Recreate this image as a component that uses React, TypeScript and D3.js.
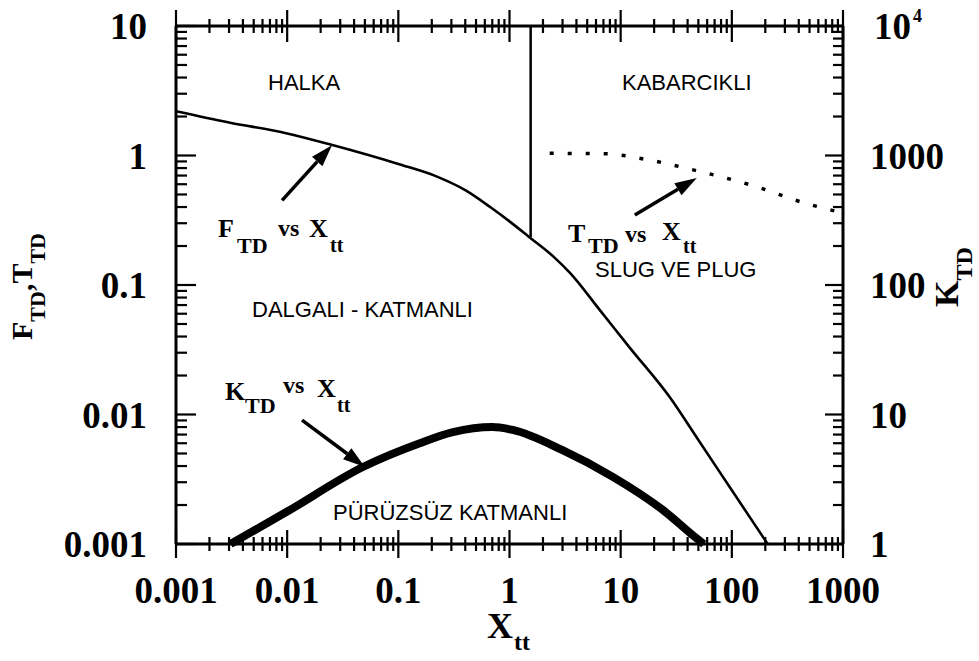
import React from 'react';
import * as d3 from 'd3';

// ---- data ----
const xTickValues = [0.001, 0.01, 0.1, 1, 10, 100, 1000];
const xTickLabels = ['0.001', '0.01', '0.1', '1', '10', '100', '1000'];
const leftTickValues = [0.001, 0.01, 0.1, 1, 10];
const leftTickLabels = ['0.001', '0.01', '0.1', '1', '10'];
const rightTickValues = [1, 10, 100, 1000];
const rightTickLabels = ['1', '10', '100', '1000'];
const rightTopValue = 10000;

// F_TD vs X_tt (left axis)
const fX = [0.001, 0.003, 0.01, 0.025, 0.1, 0.22, 0.4, 0.67, 1.0, 1.5, 2.5, 3.5, 6.5, 12, 28, 48, 100, 210];
const fY = [2.2, 1.8, 1.48, 1.21, 0.86, 0.69, 0.54, 0.4, 0.31, 0.235, 0.165, 0.124, 0.064, 0.033, 0.0134, 0.0067, 0.0026, 0.001];

// T_TD vs X_tt (left axis, dotted)
const tX = [2.3, 7.5, 16, 49, 150, 450, 1000];
const tY = [1.04, 1.03, 0.94, 0.76, 0.59, 0.43, 0.36];

// K_TD vs X_tt (right axis, thick)
const kX = [0.0031, 0.01, 0.048, 0.156, 0.31, 0.7, 1.07, 3.0, 8.5, 24, 48, 56];
const kY = [1, 1.78, 3.93, 6.0, 7.3, 8.0, 7.6, 5.3, 3.3, 1.83, 1.11, 1.0];

// boundary between HALKA / KABARCIKLI
const boundaryX = 1.55;
const boundaryTop = 10;
const boundaryBottom = 0.235;

// annotation arrows [x0, y0, x1, y1] in data units
const arrowF = [0.009, 0.45, 0.0253, 1.2];
const arrowT = [13.4, 0.347, 48.4, 0.67];
const arrowK = [0.0136, 9.06, 0.05, 3.94]; // right axis units

const W = 979;
const H = 661;
const L = 176, R = 843, T = 26, B = 544;

const serif = '"Liberation Serif", "Times New Roman", serif';
const sans = '"Liberation Sans", Arial, sans-serif';

function minorTicks(lo: number, hi: number) {
  const out: number[] = [];
  for (let d = lo; d < hi * 0.999; d *= 10) {
    for (let m = 2; m <= 9; m++) out.push(m * d);
  }
  return out;
}

export default function App() {
  const x = d3.scaleLog().domain([0.001, 1000]).range([L, R]);
  const yL = d3.scaleLog().domain([0.001, 10]).range([B, T]);
  const yR = d3.scaleLog().domain([1, 10000]).range([B, T]);

  const line = d3.line<[number, number]>().x(d => d[0]).y(d => d[1]).curve(d3.curveMonotoneX);
  const fPath = line(fX.map((v, i) => [x(v), yL(fY[i])] as [number, number])) || '';
  const tPath = line(tX.map((v, i) => [x(v), yL(tY[i])] as [number, number])) || '';
  const kPath = line(kX.map((v, i) => [x(v), yR(kY[i])] as [number, number])) || '';

  const xMinor = minorTicks(0.001, 1000);
  const yLMinor = minorTicks(0.001, 10);
  const yRMinor = minorTicks(1, 10000);

  const arrow = (a: number[], ys: any, key: string) => {
    const x0 = x(a[0]), y0 = ys(a[1]), x1 = x(a[2]), y1 = ys(a[3]);
    const ang = Math.atan2(y1 - y0, x1 - x0);
    const hl = 22, hw = 7;
    const bx = x1 - hl * Math.cos(ang), by = y1 - hl * Math.sin(ang);
    const px = -Math.sin(ang) * hw, py = Math.cos(ang) * hw;
    return (
      <g key={key}>
        <line x1={x0} y1={y0} x2={bx} y2={by} stroke="#000" strokeWidth={3.5} />
        <path d={`M${x1},${y1}L${bx + px},${by + py}L${bx - px},${by - py}Z`} fill="#000" />
      </g>
    );
  };

  return (
    <svg width={W} height={H} style={{ position: 'absolute', left: 0, top: 0, background: '#fff' }}>
      <rect x={0} y={0} width={W} height={H} fill="#fff" />

      {/* frame */}
      <g stroke="#000" strokeWidth={3} fill="none">
        <line x1={L} y1={T} x2={R} y2={T} />
        <line x1={L} y1={B} x2={R} y2={B} />
        <line x1={L} y1={T} x2={L} y2={B} />
        <line x1={R} y1={T} x2={R} y2={B} />
      </g>

      {/* ticks */}
      <g stroke="#000" strokeWidth={2.2}>
        {xTickValues.map(v => (
          <g key={'xm' + v}>
            <line x1={x(v)} x2={x(v)} y1={B - 14} y2={B + 14} />
            <line x1={x(v)} x2={x(v)} y1={T - 16} y2={T + 16} />
          </g>
        ))}
        {xMinor.map(v => (
          <g key={'xn' + v}>
            <line x1={x(v)} x2={x(v)} y1={B - 7} y2={B + 7} />
            <line x1={x(v)} x2={x(v)} y1={T - 7} y2={T + 7} />
          </g>
        ))}
        {leftTickValues.map(v => (
          <line key={'lm' + v} x1={L} x2={L + 20} y1={yL(v)} y2={yL(v)} />
        ))}
        {yLMinor.map(v => (
          <line key={'ln' + v} x1={L} x2={L + 11} y1={yL(v)} y2={yL(v)} />
        ))}
        {rightTickValues.concat([rightTopValue]).map(v => (
          <line key={'rm' + v} x1={R} x2={R - 18} y1={yR(v)} y2={yR(v)} />
        ))}
        {yRMinor.map(v => (
          <line key={'rn' + v} x1={R} x2={R - 10} y1={yR(v)} y2={yR(v)} />
        ))}
      </g>

      {/* tick labels */}
      <g fontFamily={serif} fontWeight="bold" fontSize={37} fill="#000">
        {xTickValues.map((v, i) => (
          <text key={'xl' + v} x={x(v)} y={603} textAnchor="middle">{xTickLabels[i]}</text>
        ))}
        {leftTickValues.map((v, i) => (
          <text key={'ll' + v} x={147} y={yL(v) + 13} textAnchor="end">{leftTickLabels[i]}</text>
        ))}
        {rightTickValues.map((v, i) => (
          <text key={'rl' + v} x={870} y={yR(v) + 13} textAnchor="start">{rightTickLabels[i]}</text>
        ))}
        <text x={874} y={yR(rightTopValue) + 13}>10</text>
        <text x={913} y={yR(rightTopValue) - 4} fontSize={18}>4</text>
      </g>

      {/* axis titles */}
      <g fontFamily={serif} fontWeight="bold" fill="#000">
        <text x={487} y={638} fontSize={36}>X</text>
        <text x={514} y={650} fontSize={24}>tt</text>
        <text transform="translate(32,340) rotate(-90)" fontSize={30}>
          F<tspan fontSize={22} dy={13}>TD</tspan><tspan dy={-13}>,T</tspan><tspan fontSize={22} dy={13}>TD</tspan>
        </text>
        <text transform="translate(958,307) rotate(-90)" fontSize={34}>
          K<tspan fontSize={24} dy={14}>TD</tspan>
        </text>
      </g>

      {/* boundary */}
      <line x1={x(boundaryX)} x2={x(boundaryX)} y1={yL(boundaryTop)} y2={yL(boundaryBottom)} stroke="#000" strokeWidth={2.5} />

      {/* curves */}
      <path d={fPath} fill="none" stroke="#000" strokeWidth={2.6} />
      <path d={tPath} fill="none" stroke="#000" strokeWidth={3.5} strokeDasharray="4 14" />
      <path d={kPath} fill="none" stroke="#000" strokeWidth={8} strokeLinecap="butt" />

      {/* arrows */}
      {arrow(arrowF, yL, 'af')}
      {arrow(arrowT, yL, 'at')}
      {arrow(arrowK, yR, 'ak')}

      {/* region labels */}
      <g fontFamily={sans} fontSize={22} fill="#000">
        <text x={268} y={90}>HALKA</text>
        <text x={622} y={90}>KABARCIKLI</text>
        <text x={252} y={317}>DALGALI - KATMANLI</text>
        <text x={595} y={277}>SLUG VE PLUG</text>
        <text x={333} y={520}>PÜRÜZSÜZ KATMANLI</text>
      </g>

      {/* curve annotations */}
      <g fontFamily={serif} fontWeight="bold" fill="#000">
        <text x={218} y={237} fontSize={26}>F</text>
        <text x={237} y={253} fontSize={22}>TD</text>
        <text x={278} y={236} fontSize={24}>vs</text>
        <text x={309} y={237} fontSize={26}>X</text>
        <text x={330} y={252} fontSize={20}>tt</text>

        <text x={568} y={242} fontSize={26}>T</text>
        <text x={588} y={253} fontSize={22}>TD</text>
        <text x={625} y={242} fontSize={24}>vs</text>
        <text x={662} y={240} fontSize={26}>X</text>
        <text x={683} y={253} fontSize={20}>tt</text>

        <text x={225} y={400} fontSize={26}>K</text>
        <text x={245} y={413} fontSize={22}>TD</text>
        <text x={283} y={393} fontSize={24}>vs</text>
        <text x={317} y={397} fontSize={26}>X</text>
        <text x={337} y={412} fontSize={20}>tt</text>
      </g>
    </svg>
  );
}
